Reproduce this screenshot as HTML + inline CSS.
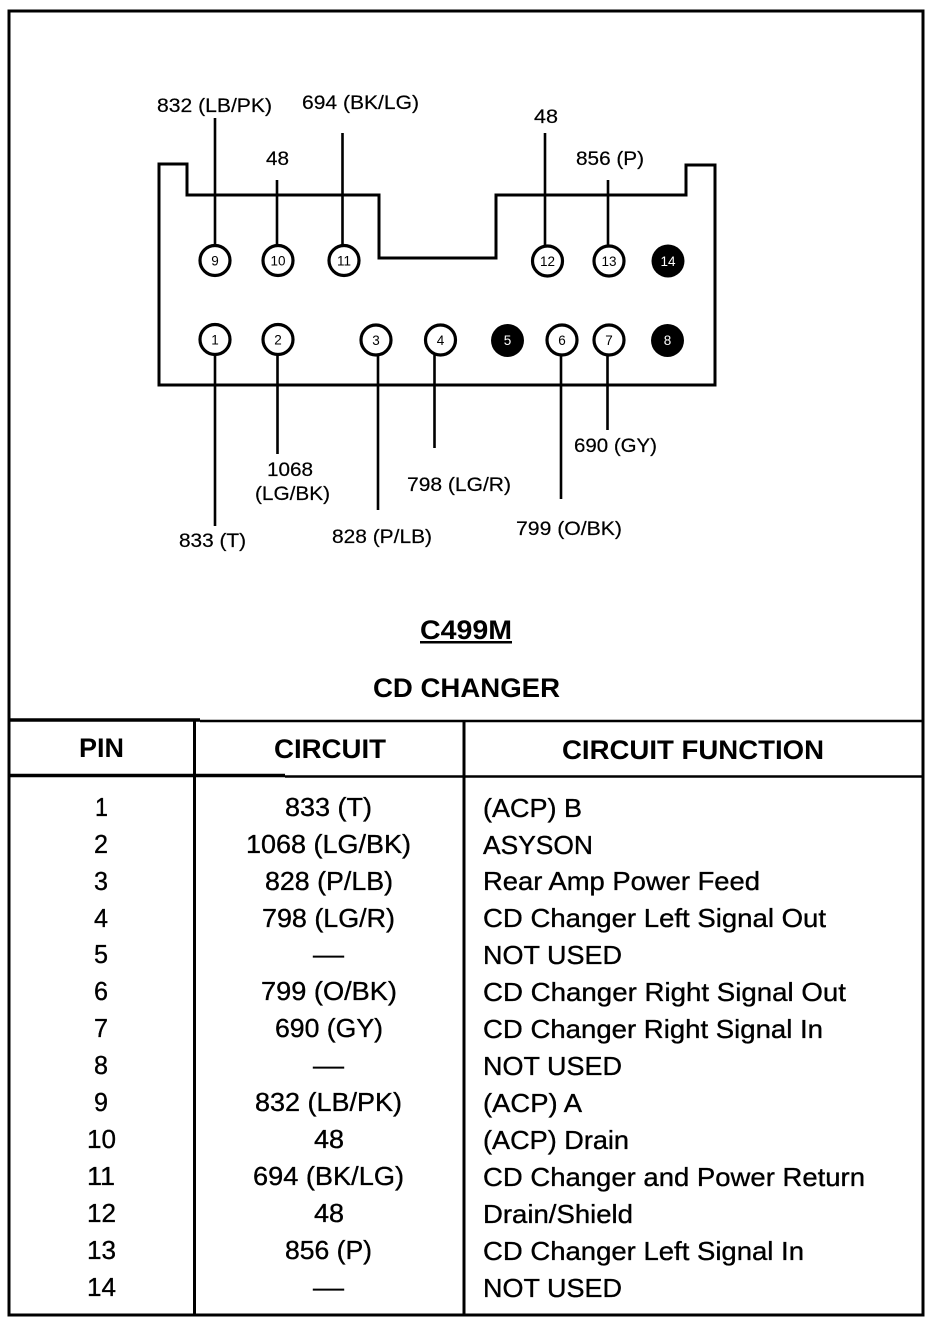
<!DOCTYPE html>
<html><head><meta charset="utf-8"><style>
html,body{margin:0;padding:0;background:#fff}
svg{display:block}
text{font-family:"Liberation Sans",sans-serif;fill:#000}
.l{font-size:19px;stroke:#000;stroke-width:.2}
.t{font-size:26px;stroke:#000;stroke-width:.35}
.h{font-size:27px;font-weight:bold}
.p{font-size:13.5px;stroke-width:.3}
</style></head><body>
<svg width="944" height="1326" viewBox="0 0 944 1326">
<rect width="944" height="1326" fill="#fff"/>
<rect x="9" y="11" width="914" height="1304" fill="none" stroke="#000" stroke-width="3"/>
<path d="M159 164H187V195H379V258H496V195H686V165H715V385H159Z" fill="none" stroke="#000" stroke-width="3"/>
<g stroke="#000" stroke-width="2.6" fill="none">
<path d="M215 118V245M277 180V245M342.500 133V245M545 133V245M608 180V245M215 355V526M277.500 355V454M378 355V510M434.500 355V448M561 355V499M607.500 355V430"/>
</g>
<g stroke="#000" stroke-width="3.2" fill="#fff">
<circle cx="215" cy="260.500" r="15"/><circle cx="278" cy="260.500" r="15"/><circle cx="344" cy="260.500" r="15"/><circle cx="547.500" cy="261" r="15"/><circle cx="609" cy="261" r="15"/>
<circle cx="215" cy="339.500" r="15"/><circle cx="278" cy="339.500" r="15"/><circle cx="376" cy="340" r="15"/><circle cx="440.500" cy="340" r="15"/><circle cx="562" cy="340" r="15"/><circle cx="609" cy="340" r="15"/>
</g>
<g fill="#000"><circle cx="668" cy="261" r="16.500"/><circle cx="507.500" cy="340.500" r="16.500"/><circle cx="667.500" cy="340.500" r="16.500"/></g>
<g class="p" text-anchor="middle">
<text x="215" y="265.500">9</text><text x="278" y="265.500">10</text><text x="344" y="265.500">11</text><text x="547.500" y="266">12</text><text x="609" y="266">13</text>
<text x="668" y="266" style="fill:#fff">14</text>
<text x="215" y="344.500">1</text><text x="278" y="344.500">2</text><text x="376" y="345">3</text><text x="440.500" y="345">4</text>
<text x="507.500" y="345" style="fill:#fff">5</text><text x="562" y="345">6</text><text x="609" y="345">7</text><text x="667.500" y="345" style="fill:#fff">8</text>
</g>
<g class="l" lengthAdjust="spacingAndGlyphs">
<text x="157" y="112" textLength="115" lengthAdjust="spacingAndGlyphs">832 (LB/PK)</text>
<text x="302" y="109" textLength="117" lengthAdjust="spacingAndGlyphs">694 (BK/LG)</text>
<text x="266" y="165" textLength="23" lengthAdjust="spacingAndGlyphs">48</text>
<text x="534" y="123" textLength="24" lengthAdjust="spacingAndGlyphs">48</text>
<text x="576" y="165" textLength="68" lengthAdjust="spacingAndGlyphs">856 (P)</text>
<text x="574" y="452" textLength="83" lengthAdjust="spacingAndGlyphs">690 (GY)</text>
<text x="267" y="476" textLength="46" lengthAdjust="spacingAndGlyphs">1068</text>
<text x="255" y="500" textLength="75" lengthAdjust="spacingAndGlyphs">(LG/BK)</text>
<text x="407" y="491" textLength="104" lengthAdjust="spacingAndGlyphs">798 (LG/R)</text>
<text x="516" y="535" textLength="106" lengthAdjust="spacingAndGlyphs">799 (O/BK)</text>
<text x="332" y="543" textLength="100" lengthAdjust="spacingAndGlyphs">828 (P/LB)</text>
<text x="179" y="547" textLength="67" lengthAdjust="spacingAndGlyphs">833 (T)</text>
</g>
<text x="420" y="639" class="h" textLength="92" lengthAdjust="spacingAndGlyphs">C499M</text>
<rect x="420" y="641" width="92" height="2.500" fill="#000"/>
<text x="373" y="697" class="h" textLength="187" lengthAdjust="spacingAndGlyphs">CD CHANGER</text>
<g stroke="#000" fill="none">
<path d="M9 720H200M9 775.500H285" stroke-width="3.500"/>
<path d="M200 721H923M285 776.500H923" stroke-width="2.500"/>
<path d="M194.500 720V1315M464 720V1315" stroke-width="3"/>
</g>
<g class="h">
<text x="79" y="757" textLength="45" lengthAdjust="spacingAndGlyphs">PIN</text>
<text x="274" y="758" textLength="112" lengthAdjust="spacingAndGlyphs">CIRCUIT</text>
<text x="562" y="759" textLength="262" lengthAdjust="spacingAndGlyphs">CIRCUIT FUNCTION</text>
</g>
<g class="t">
<text x="95" y="816" textLength="13" lengthAdjust="spacingAndGlyphs">1</text>
<text x="94" y="853" textLength="14" lengthAdjust="spacingAndGlyphs">2</text>
<text x="94" y="890" textLength="14" lengthAdjust="spacingAndGlyphs">3</text>
<text x="94" y="927" textLength="14" lengthAdjust="spacingAndGlyphs">4</text>
<text x="94" y="963" textLength="14" lengthAdjust="spacingAndGlyphs">5</text>
<text x="94" y="1000" textLength="14" lengthAdjust="spacingAndGlyphs">6</text>
<text x="94" y="1037" textLength="14" lengthAdjust="spacingAndGlyphs">7</text>
<text x="94" y="1074" textLength="14" lengthAdjust="spacingAndGlyphs">8</text>
<text x="94" y="1111" textLength="14" lengthAdjust="spacingAndGlyphs">9</text>
<text x="87" y="1148" textLength="29" lengthAdjust="spacingAndGlyphs">10</text>
<text x="87" y="1185" textLength="28" lengthAdjust="spacingAndGlyphs">11</text>
<text x="87" y="1222" textLength="29" lengthAdjust="spacingAndGlyphs">12</text>
<text x="87" y="1259" textLength="29" lengthAdjust="spacingAndGlyphs">13</text>
<text x="87" y="1296" textLength="29" lengthAdjust="spacingAndGlyphs">14</text>

<text x="285" y="816" textLength="87" lengthAdjust="spacingAndGlyphs">833 (T)</text>
<text x="246" y="853" textLength="165" lengthAdjust="spacingAndGlyphs">1068 (LG/BK)</text>
<text x="265" y="890" textLength="128" lengthAdjust="spacingAndGlyphs">828 (P/LB)</text>
<text x="262" y="927" textLength="133" lengthAdjust="spacingAndGlyphs">798 (LG/R)</text>
<text x="313" y="963" textLength="31" lengthAdjust="spacingAndGlyphs">—</text>
<text x="261" y="1000" textLength="136" lengthAdjust="spacingAndGlyphs">799 (O/BK)</text>
<text x="275" y="1037" textLength="108" lengthAdjust="spacingAndGlyphs">690 (GY)</text>
<text x="313" y="1074" textLength="31" lengthAdjust="spacingAndGlyphs">—</text>
<text x="255" y="1111" textLength="147" lengthAdjust="spacingAndGlyphs">832 (LB/PK)</text>
<text x="314" y="1148" textLength="30" lengthAdjust="spacingAndGlyphs">48</text>
<text x="253" y="1185" textLength="151" lengthAdjust="spacingAndGlyphs">694 (BK/LG)</text>
<text x="314" y="1222" textLength="30" lengthAdjust="spacingAndGlyphs">48</text>
<text x="285" y="1259" textLength="87" lengthAdjust="spacingAndGlyphs">856 (P)</text>
<text x="313" y="1296" textLength="31" lengthAdjust="spacingAndGlyphs">—</text>

<text x="483" y="817" textLength="99" lengthAdjust="spacingAndGlyphs">(ACP) B</text>
<text x="483" y="854" textLength="110" lengthAdjust="spacingAndGlyphs">ASYSON</text>
<text x="483" y="890" textLength="277" lengthAdjust="spacingAndGlyphs">Rear Amp Power Feed</text>
<text x="483" y="927" textLength="343" lengthAdjust="spacingAndGlyphs">CD Changer Left Signal Out</text>
<text x="483" y="964" textLength="139" lengthAdjust="spacingAndGlyphs">NOT USED</text>
<text x="483" y="1001" textLength="363" lengthAdjust="spacingAndGlyphs">CD Changer Right Signal Out</text>
<text x="483" y="1038" textLength="340" lengthAdjust="spacingAndGlyphs">CD Changer Right Signal In</text>
<text x="483" y="1075" textLength="139" lengthAdjust="spacingAndGlyphs">NOT USED</text>
<text x="483" y="1112" textLength="99" lengthAdjust="spacingAndGlyphs">(ACP) A</text>
<text x="483" y="1149" textLength="146" lengthAdjust="spacingAndGlyphs">(ACP) Drain</text>
<text x="483" y="1186" textLength="382" lengthAdjust="spacingAndGlyphs">CD Changer and Power Return</text>
<text x="483" y="1223" textLength="150" lengthAdjust="spacingAndGlyphs">Drain/Shield</text>
<text x="483" y="1260" textLength="321" lengthAdjust="spacingAndGlyphs">CD Changer Left Signal In</text>
<text x="483" y="1297" textLength="139" lengthAdjust="spacingAndGlyphs">NOT USED</text>
</g>
</svg>
</body></html>
